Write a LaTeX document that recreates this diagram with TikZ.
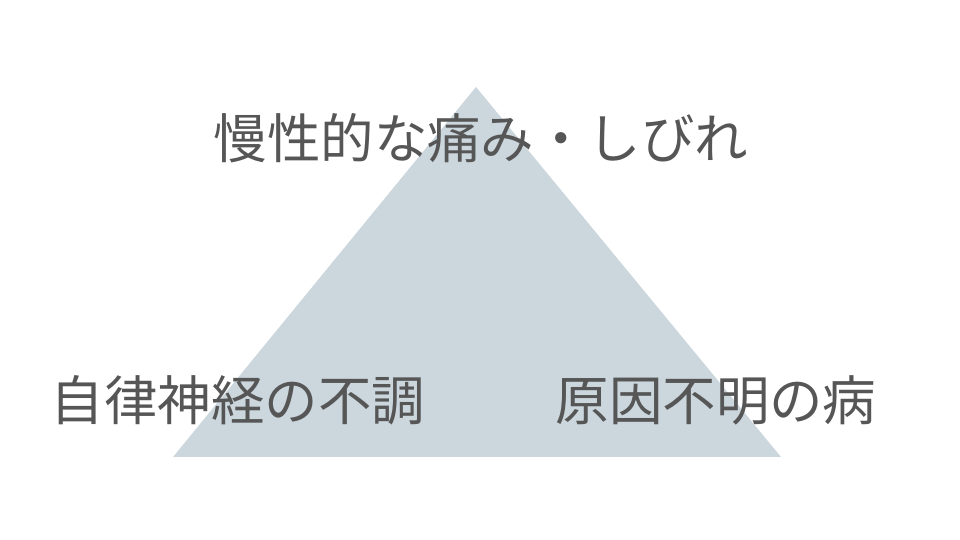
\documentclass[tikz,border=0pt]{standalone}
\usepackage{fontspec}
\newfontfamily\jpfont{Noto Sans CJK JP}
\usetikzlibrary{positioning}
\definecolor{pyramid}{HTML}{CBD6DD}
\definecolor{labeltext}{HTML}{565656}
\tikzset{level/.style={text=labeltext,font=\jpfont\fontsize{15.2}{18}\selectfont,inner sep=0pt}}

\begin{document}
\begin{tikzpicture}[x=0.01cm,y=-0.01cm]
\useasboundingbox (0,0) rectangle (960,540);
\fill[pyramid] (173,457) -- (476,87) -- (781,457) -- cycle;
\node[level] (top) at (481,138) {慢性的な痛み・しびれ};
\node[level] (left) at (238,400) {自律神経の不調};
\node[level] (right) at (716,400) {原因不明の病};
\end{tikzpicture}
\end{document}
